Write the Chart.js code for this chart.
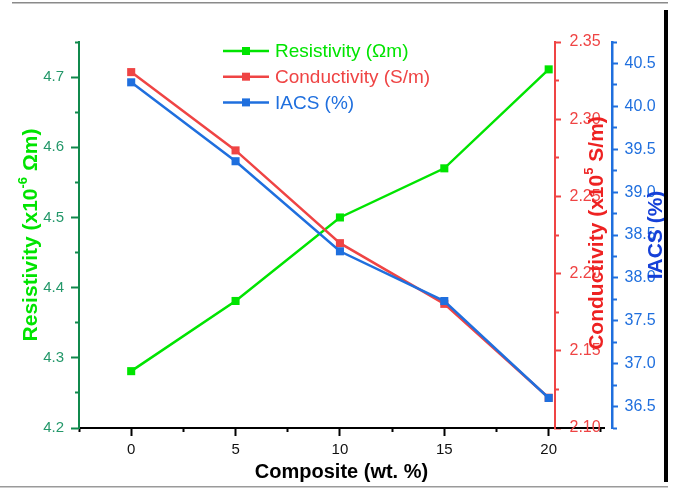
<!DOCTYPE html>
<html>
<head>
<meta charset="utf-8">
<script src="https://cdn.jsdelivr.net/npm/chart.js@4.4.1/dist/chart.umd.min.js"></script>
<style>
  html, body { margin: 0; padding: 0; background: #fff; }
  canvas { display: block; }
</style>
</head>
<body>
<canvas id="chart" width="674" height="488"></canvas>
<script>
const composite = [0, 5, 10, 15, 20];
const resistivity = [4.281, 4.381, 4.500, 4.570, 4.711];
const conductivity = [2.3305, 2.2798, 2.2197, 2.1804, 2.1196];
const iacs = [40.28, 39.36, 38.31, 37.73, 36.60];

const xTicks = [0, 5, 10, 15, 20];
const xMinorTicks = [-2.5, 2.5, 7.5, 12.5, 17.5, 22.5];
const resTicks = [4.2, 4.3, 4.4, 4.5, 4.6, 4.7];
const resMinorTicks = [4.25, 4.35, 4.45, 4.55, 4.65, 4.75];
const condTicks = [2.10, 2.15, 2.20, 2.25, 2.30, 2.35];
const condMinorTicks = [2.125, 2.175, 2.225, 2.275, 2.325];
const iacsTicks = [36.5, 37.0, 37.5, 38.0, 38.5, 39.0, 39.5, 40.0, 40.5];
const iacsMinorTicks = [36.25, 36.75, 37.25, 37.75, 38.25, 38.75, 39.25, 39.75, 40.25, 40.75];

const FONT = "'Liberation Sans', Arial, Helvetica, sans-serif";
const GREEN = '#00e400';
const RED = '#ef4444';
const BLUE = '#1f6fde';
const GREEN_AXIS = '#10894c';

// x range of the box and where the two right-hand axes sit, in x units
const xMin = -2.5;
const xMax = 22.65;
const condAxisAt = 20.28;
const iacsAxisAt = 23.06;

const setTicks = list => scale => { scale.ticks = list.map(v => ({ value: v })); };

function minorAxis(axis, pos, min, max, list, len, color) {
    return {
        type: 'linear', axis, position: pos, min, max,
        afterBuildTicks: setTicks(list),
        ticks: { display: false },
        border: { display: false },
        grid: { drawOnChartArea: false, tickLength: len, tickWidth: 2, tickColor: color }
    };
}

function drawRotated(ctx, cx, cy, parts, color) {
    ctx.save();
    ctx.translate(cx, cy);
    ctx.rotate(-Math.PI / 2);
    ctx.fillStyle = color;
    ctx.textBaseline = 'middle';
    ctx.textAlign = 'left';
    let total = 0;
    parts.forEach(p => { ctx.font = `bold ${p.size}px ${FONT}`; total += ctx.measureText(p.text).width; });
    let x = -total / 2;
    parts.forEach(p => {
        ctx.font = `bold ${p.size}px ${FONT}`;
        ctx.fillText(p.text, x, p.rise || 0);
        x += ctx.measureText(p.text).width;
    });
    ctx.restore();
}

const extras = {
    id: 'extras',
    afterDraw(chart) {
        const ctx = chart.ctx;
        const xs = chart.scales.x;
        const condX = xs.getPixelForValue(condAxisAt);
        const iacsX = xs.getPixelForValue(iacsAxisAt);

        // right-hand tick labels
        ctx.save();
        ctx.textBaseline = 'middle';
        ctx.textAlign = 'left';
        ctx.font = `16px ${FONT}`;
        ctx.fillStyle = RED;
        chart.scales.yr.ticks.forEach(t => {
            ctx.fillText(t.value.toFixed(2), condX + 15, chart.scales.yr.getPixelForValue(t.value));
        });
        ctx.fillStyle = BLUE;
        chart.scales.yb.ticks.forEach(t => {
            ctx.fillText(t.value.toFixed(1), iacsX + 12, chart.scales.yb.getPixelForValue(t.value));
        });
        ctx.restore();

        // axis titles
        drawRotated(ctx, 31, 235, [
            { text: 'Resistivity (x10', size: 21 },
            { text: '-6', size: 13, rise: -8 },
            { text: ' \u03A9m)', size: 21 }
        ], GREEN);
        drawRotated(ctx, condX + 43, 233, [
            { text: 'Conductivity (x10', size: 21 },
            { text: '5', size: 13, rise: -8 },
            { text: ' S/m)', size: 21 }
        ], '#ee2222');
        drawRotated(ctx, iacsX + 44, 235, [{ text: 'IACS (%)', size: 21 }], '#1540d8');

        // legend
        const legendOrder = [0, 1, 2];
        ctx.save();
        ctx.font = `19px ${FONT}`;
        ctx.textBaseline = 'middle';
        legendOrder.forEach((i, k) => {
            const ds = chart.data.datasets[i];
            const y = 51 + k * 25.7;
            ctx.strokeStyle = ds.borderColor;
            ctx.lineWidth = 2.5;
            ctx.beginPath();
            ctx.moveTo(223, y);
            ctx.lineTo(269, y);
            ctx.stroke();
            ctx.fillStyle = ds.borderColor;
            ctx.fillRect(242, y - 4, 8, 8);
            ctx.fillText(ds.label, 275, y + 1);
        });
        ctx.restore();

        // frame left over from the original figure
        ctx.save();
        ctx.fillStyle = '#8a8a8a';
        ctx.fillRect(12, 2, 656, 1.5);
        ctx.fillStyle = '#000';
        ctx.fillRect(664, 10, 4, 472);
        ctx.fillStyle = '#9a9a9a';
        ctx.fillRect(0, 486, 668, 1.5);
        ctx.restore();
    }
};

const toPoints = ys => composite.map((c, i) => ({ x: c, y: ys[i] }));

new Chart(document.getElementById('chart'), {
    type: 'line',
    data: {
        datasets: [
            {
                label: 'Resistivity (\u03A9m)',
                data: toPoints(resistivity),
                yAxisID: 'y',
                borderColor: GREEN,
                backgroundColor: GREEN,
                order: 2
            },
            {
                label: 'Conductivity (S/m)',
                data: toPoints(conductivity),
                yAxisID: 'yr',
                borderColor: RED,
                backgroundColor: RED,
                order: 1
            },
            {
                label: 'IACS (%)',
                data: toPoints(iacs),
                yAxisID: 'yb',
                borderColor: BLUE,
                backgroundColor: BLUE,
                order: 0
            }
        ]
    },
    options: {
        responsive: false,
        animation: false,
        layout: { padding: { left: 0, right: 70, top: 42, bottom: 0 } },
        elements: {
            line: { borderWidth: 2.5, tension: 0 },
            point: { pointStyle: 'rect', radius: 5.7, borderWidth: 0, hoverRadius: 5.7 }
        },
        plugins: { legend: { display: false }, tooltip: { enabled: false } },
        scales: {
            x: {
                type: 'linear', position: 'bottom', min: xMin, max: xMax,
                afterBuildTicks: setTicks(xTicks),
                afterFit: s => { s.height = 60; },
                ticks: { color: '#111', font: { family: FONT, size: 15 }, padding: 5 },
                border: { color: '#000', width: 2 },
                grid: { drawOnChartArea: false, tickLength: 8, tickWidth: 2, tickColor: '#000' },
                title: {
                    display: true, text: 'Composite (wt. %)', color: '#000',
                    font: { family: FONT, size: 20, weight: 'bold' }, padding: { top: 0, bottom: 4 }
                }
            },
            xm: minorAxis('x', { y: 4.2 }, xMin, xMax, xMinorTicks, 4, '#000'),
            y: {
                type: 'linear', position: 'left', min: 4.2, max: 4.75,
                afterBuildTicks: setTicks(resTicks),
                afterFit: s => { s.width = 79; },
                ticks: { color: '#24986a', font: { family: FONT, size: 15 }, padding: 7, callback: v => v.toFixed(1) },
                border: { color: GREEN_AXIS, width: 2 },
                grid: { drawOnChartArea: false, tickLength: 8, tickWidth: 2, tickColor: GREEN_AXIS }
            },
            ym: minorAxis('y', { x: xMin }, 4.2, 4.75, resMinorTicks, 4, GREEN_AXIS),
            yr: {
                type: 'linear', axis: 'y', position: { x: condAxisAt }, min: 2.10, max: 2.35,
                afterBuildTicks: setTicks(condTicks),
                ticks: { display: false },
                border: { color: RED, width: 2 },
                grid: { drawOnChartArea: false, tickLength: -7, tickWidth: 2, tickColor: RED }
            },
            yrm: minorAxis('y', { x: condAxisAt }, 2.10, 2.35, condMinorTicks, -4, RED),
            yb: {
                type: 'linear', axis: 'y', position: { x: iacsAxisAt }, min: 36.25, max: 40.75,
                afterBuildTicks: setTicks(iacsTicks),
                ticks: { display: false },
                border: { color: BLUE, width: 2.5 },
                grid: { drawOnChartArea: false, tickLength: -7, tickWidth: 2, tickColor: BLUE }
            },
            ybm: minorAxis('y', { x: iacsAxisAt }, 36.25, 40.75, iacsMinorTicks, -4, BLUE)
        }
    },
    plugins: [extras]
});
</script>
</body>
</html>
